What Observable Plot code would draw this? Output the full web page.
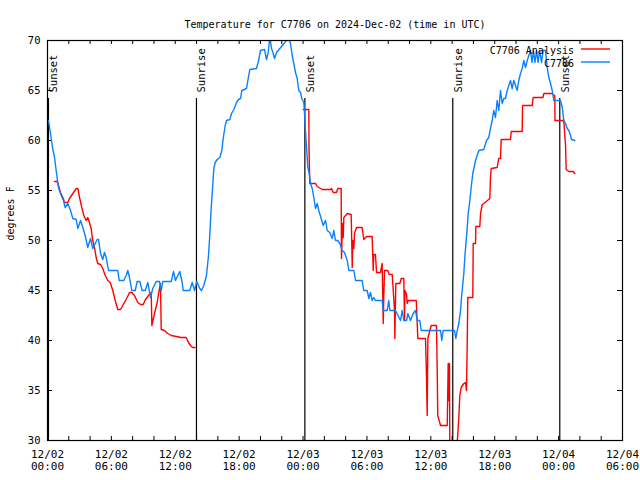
<!DOCTYPE html>
<html>
<head>
<meta charset="utf-8">
<script src="https://cdn.jsdelivr.net/npm/d3@7"></script>
<script src="https://cdn.jsdelivr.net/npm/@observablehq/plot@0.6"></script>
<style>
  html, body { margin: 0; padding: 0; background: #fff; }
  svg { display: block; }
</style>
</head>
<body>
<div id="chart"></div>
<script>
// ---------- DATA ----------
const titleText = "Temperature for C7706 on 2024-Dec-02 (time in UTC)";
const yLabel = "degrees F";
const seriesNames = ["C7706 Analysis", "C7706"];
const seriesColors = ["#ff0000", "#0a80ff"];

// hours since 2024-12-02 00:00 UTC
const obsHours = [0.09,0.28,0.47,0.66,0.85,1.03,1.29,1.50,1.66,1.91,2.16,2.38,2.70,2.85,3.10,3.32,3.54,3.78,4.04,4.25,4.48,4.67,4.79,4.98,5.19,5.35,5.51,5.73,6.60,6.73,7.17,7.39,7.54,7.70,7.92,8.24,8.42,8.67,8.89,9.18,9.42,9.67,9.89,10.21,10.52,10.68,10.83,11.62,11.83,12.02,12.24,12.42,12.65,12.74,13.36,13.59,13.81,14.02,14.30,14.46,14.68,14.93,15.12,15.24,15.37,15.50,15.62,15.75,15.94,16.18,16.37,16.50,16.69,16.81,17.12,17.28,17.50,17.75,17.94,18.13,18.25,18.69,18.85,19.00,19.63,19.82,20.00,20.38,20.57,20.73,20.88,21.04,21.20,21.32,21.51,21.82,22.29,22.61,22.82,22.98,23.13,23.29,23.45,23.60,23.76,23.88,24.07,24.14,24.23,24.32,24.45,24.58,24.70,24.86,25.01,25.17,25.33,25.48,25.70,25.89,26.11,26.27,26.51,26.74,26.89,27.05,27.26,27.45,27.68,27.89,28.15,28.30,28.77,28.93,29.55,29.70,30.02,30.18,30.33,30.49,30.64,30.80,31.43,31.53,31.90,32.05,32.15,32.68,33.15,33.31,33.46,33.72,33.84,34.09,34.34,34.56,34.72,34.96,35.10,36.91,37.03,37.16,38.22,38.35,38.48,38.63,38.79,38.88,38.97,39.10,39.19,39.32,39.42,39.51,39.63,39.79,39.94,40.04,40.20,40.35,40.51,40.97,41.23,41.44,41.60,41.76,41.91,42.07,42.23,42.38,42.54,42.70,42.85,43.01,43.17,43.48,43.64,43.79,44.11,44.26,44.42,44.58,44.73,44.89,45.05,45.36,45.50,45.64,45.78,45.93,46.07,46.21,46.40,46.54,46.77,46.93,47.08,47.24,47.40,47.55,48.18,48.34,48.49,48.65,48.81,48.96,49.12,49.21,49.52];
const obsTemps = [62,60.7,59.3,58.3,56.7,55.3,54.5,54,53.3,53.7,53,52.2,52.1,51.2,52,51.3,50.5,49.3,50.2,49.2,49.7,50.1,50.1,48.7,48.1,48.8,48.3,47,47,46,46,46.5,47,46.3,45,45,45.9,45.9,45,45,45.8,44.3,45.2,45.9,45.9,45,45.9,45.9,46.9,46,46.5,46.9,45.8,45,45,45.8,45,45.9,45.2,45,45.5,46.5,48.5,50.5,53.2,55.2,57.2,57.8,58.1,58.3,59,60.2,61.5,62,62.1,62.7,63.1,63.8,64.1,64.2,65,65.2,66.2,67.1,67.2,68,69,69.1,68.1,68.8,70.4,69.2,68.7,68.2,68.8,69.2,69.8,70.3,69.7,68.5,67.7,66.8,66.2,65,64.8,64.2,63.8,62.7,61,59.5,57.3,56.7,55.7,55.2,54.3,53.2,53.7,53,52.2,51.5,52,51,50.8,50.2,51,50,50,49.7,49,48.8,48,47,47,46,46,45,45,44.2,44.8,44,44.3,44,44,43,43,44,43,43,42,43,42,42,42.7,42,42.7,43,42,42,41,41,40,41,41,40.2,41,41.7,43,44.3,45.3,46.7,48.3,50,51.3,52.7,53.7,55.3,56.7,57.2,58,58.5,59,59.1,60,60.3,61.2,62,63,62.3,64,63,65,63.7,64.2,64.2,65,66,65.2,66,65,66,66.7,67.2,68,67.3,68,69,67.8,69,67.8,69,67.8,69,67.8,69,69,67.3,66.3,65.7,65,64,64,63.3,62,61.7,61.2,61,60.5,60.1,60];

// analysis: two runs, separated by a gap (null)
const anaHours = [0.66,0.91,1.03,1.22,1.44,1.60,1.91,2.07,2.38,2.70,2.85,3.01,3.22,3.41,3.63,3.78,3.94,4.10,4.25,4.41,4.57,4.72,4.98,5.19,5.42,5.66,5.89,6.13,6.36,6.60,6.86,7.17,7.48,7.70,7.92,8.17,8.48,8.73,8.99,9.20,9.42,9.61,9.74,9.80,10.05,10.30,10.45,10.61,10.68,10.99,11.30,11.62,12.09,12.56,13.03,13.24,13.43,13.62,13.87,
  19.0,
  24.01,24.54,24.56,24.63,25.17,25.33,25.80,26.58,26.67,26.83,27.14,27.26,27.58,27.61,27.70,27.77,27.83,28.15,28.52,28.62,28.67,28.77,28.83,29.02,29.55,29.70,29.96,30.49,30.59,30.64,30.80,30.90,31.27,31.43,31.53,31.58,31.65,31.96,32.09,32.37,32.47,32.59,32.62,32.71,33.09,33.22,33.46,33.53,33.57,33.72,33.78,33.87,34.63,34.78,35.50,35.59,35.66,35.72,36.03,36.53,36.60,36.65,36.91,37.54,37.63,37.69,37.75,37.78,38.48,38.63,38.72,38.85,39.10,39.26,39.35,39.42,39.47,39.94,39.98,40.20,40.23,40.60,40.67,40.83,40.98,41.54,41.60,41.67,42.23,42.38,42.54,42.61,43.48,43.55,44.58,44.61,45.52,45.61,46.52,46.62,47.33,47.64,47.66,48.49,48.55,48.65,48.71,48.96,49.37,49.52];
const anaTemps = [55.9,55.9,55.5,54.8,54.3,53.8,53.8,54.2,54.7,55.2,55.2,54.3,53.3,52.5,52,52.3,51.8,51.2,50,49.3,48.3,47.7,47.6,47.2,46.5,46,45.8,45,44,43.1,43.1,43.7,44.3,44.8,44.8,44.5,43.8,43.6,43.6,44.1,44.4,44.7,44.8,41.5,42.7,43.8,44.8,45.7,41.1,41,40.7,40.5,40.4,40.3,40.3,39.8,39.5,39.3,39.3,
  null,
  63.1,63.1,59.3,55.7,55.7,55.4,55.1,55.1,55.2,54.8,54.8,55.2,55.2,48.2,51.7,50.3,52.3,52.7,52.6,47.3,50,49.2,50.7,51.3,51.3,50.1,50.4,50.4,47,48.6,48.6,46.8,46.8,47.7,41.7,44.3,47,47,46.6,46.6,45,43,40.2,45.7,45.7,46.2,46.2,42,45,44.6,43.7,44,44,40.2,40.2,36.5,32.5,40.2,41.5,41.5,37,32.5,31.5,31.5,37.7,34,37.7,29.8,29.8,32.3,34.5,35.3,35.7,35.8,35,40,44.3,44.3,49.7,49.7,51.4,51.4,52.7,53.6,53.7,54.2,56.3,57.2,57.3,58.2,58.2,60.1,60.1,60.9,60.9,63.5,63.5,64.3,64.3,64.7,64.7,64.5,62,62,61,59.5,57.1,56.9,56.9,56.7];

const sunHours = [0.09, 13.99, 24.17, 38.06, 48.11];
const sunLabels = ["Sunset", "Sunrise", "Sunset", "Sunrise", "Sunset"];

const xTickHours = [0, 6, 12, 18, 24, 30, 36, 42, 48, 54];
const xMinorHours = d3.range(0, 55, 2);
const yTicks = [30, 35, 40, 45, 50, 55, 60, 65, 70];

// ---------- BUILD ----------
const W = 640, H = 480;
const mL = 47, mR = 18, mT = 40, mB = 40;
const fw = W - mL - mR, fh = H - mT - mB;
const start = Date.UTC(2024, 11, 2);
const toDate = h => new Date(start + h * 3600e3);
const fmtD = d3.utcFormat("%m/%d"), fmtT = d3.utcFormat("%H:%M");

const obs = obsHours.map((h, i) => ({t: toDate(h), f: obsTemps[i]}));
const ana = anaHours.map((h, i) => ({t: toDate(h), f: anaTemps[i] == null ? NaN : anaTemps[i]}));
const sun = sunHours.map((h, i) => ({t: toDate(h), label: sunLabels[i]}));
const xTicks = xTickHours.map(toDate);
const xMinor = xMinorHours.map(toDate);

const font = "'DejaVu Sans Mono', 'Liberation Mono', monospace";

const plot = Plot.plot({
  width: W, height: H,
  marginLeft: mL, marginRight: mR, marginTop: mT, marginBottom: mB,
  style: {fontFamily: font, fontSize: "10px", color: "black", background: "white", overflow: "visible"},
  x: {type: "utc", domain: [toDate(0), toDate(54)]},
  y: {domain: [30, 70]},
  marks: [
    Plot.axisY({ticks: yTicks, tickSize: 0, tickPadding: 7, label: null, tickFormat: d => String(d), fontSize: 10.5}),
    Plot.axisX({ticks: [], tickSize: 0, label: null}),
    // x tick labels (two lines)
    Plot.text(xTicks, {x: d => d, text: d => fmtD(d) + "\n" + fmtT(d), frameAnchor: "bottom", dy: 9,
      lineAnchor: "top", lineHeight: 1.1, fontSize: 11, fill: "black"}),
    // inward ticks
    Plot.tickX(xMinor, {x: d => d, insetTop: fh - 4, stroke: "black"}),
    Plot.tickX(xMinor, {x: d => d, insetBottom: fh - 4, stroke: "black"}),
    Plot.tickY(yTicks, {y: d => d, insetRight: fw - 5, stroke: "black"}),
    Plot.tickY(yTicks, {y: d => d, insetLeft: fw - 5, stroke: "black"}),
    // sunrise / sunset
    Plot.ruleX(sun, {x: "t", insetTop: 58, stroke: "black", strokeWidth: 1.2}),
    Plot.text(sun, {x: "t", text: "label", frameAnchor: "top", dy: 52, dx: 1.5, rotate: -90,
      textAnchor: "start", fill: "black", fontSize: 10.5}),
    // series
    Plot.line(ana, {x: "t", y: "f", stroke: seriesColors[0], strokeWidth: 1.4, clip: true, curve: "linear"}),
    Plot.line(obs, {x: "t", y: "f", stroke: seriesColors[1], strokeWidth: 1.4, clip: true, curve: "linear"}),
    Plot.frame({stroke: "black", strokeWidth: 1.2}),
    // title & y label
    Plot.text([titleText], {frameAnchor: "top", dy: -20, fontSize: 10, fill: "black"}),
    Plot.text([yLabel], {frameAnchor: "left", dx: -37, rotate: -90, fontSize: 10, fill: "black"})
  ]
});

// legend (top right, inside the frame)
const svg = d3.select(plot);
const lg = svg.append("g").attr("font-family", font).attr("font-size", 10);
seriesNames.forEach((name, i) => {
  const yy = 50 + i * 13;
  lg.append("text").attr("x", 574).attr("y", yy).attr("dy", "0.35em")
    .attr("text-anchor", "end").attr("fill", "black").text(name);
  lg.append("line").attr("x1", 581).attr("x2", 610).attr("y1", yy - 1).attr("y2", yy - 1)
    .attr("stroke", seriesColors[i]).attr("stroke-width", 1.4);
});

document.getElementById("chart").appendChild(plot);
</script>
</body>
</html>
